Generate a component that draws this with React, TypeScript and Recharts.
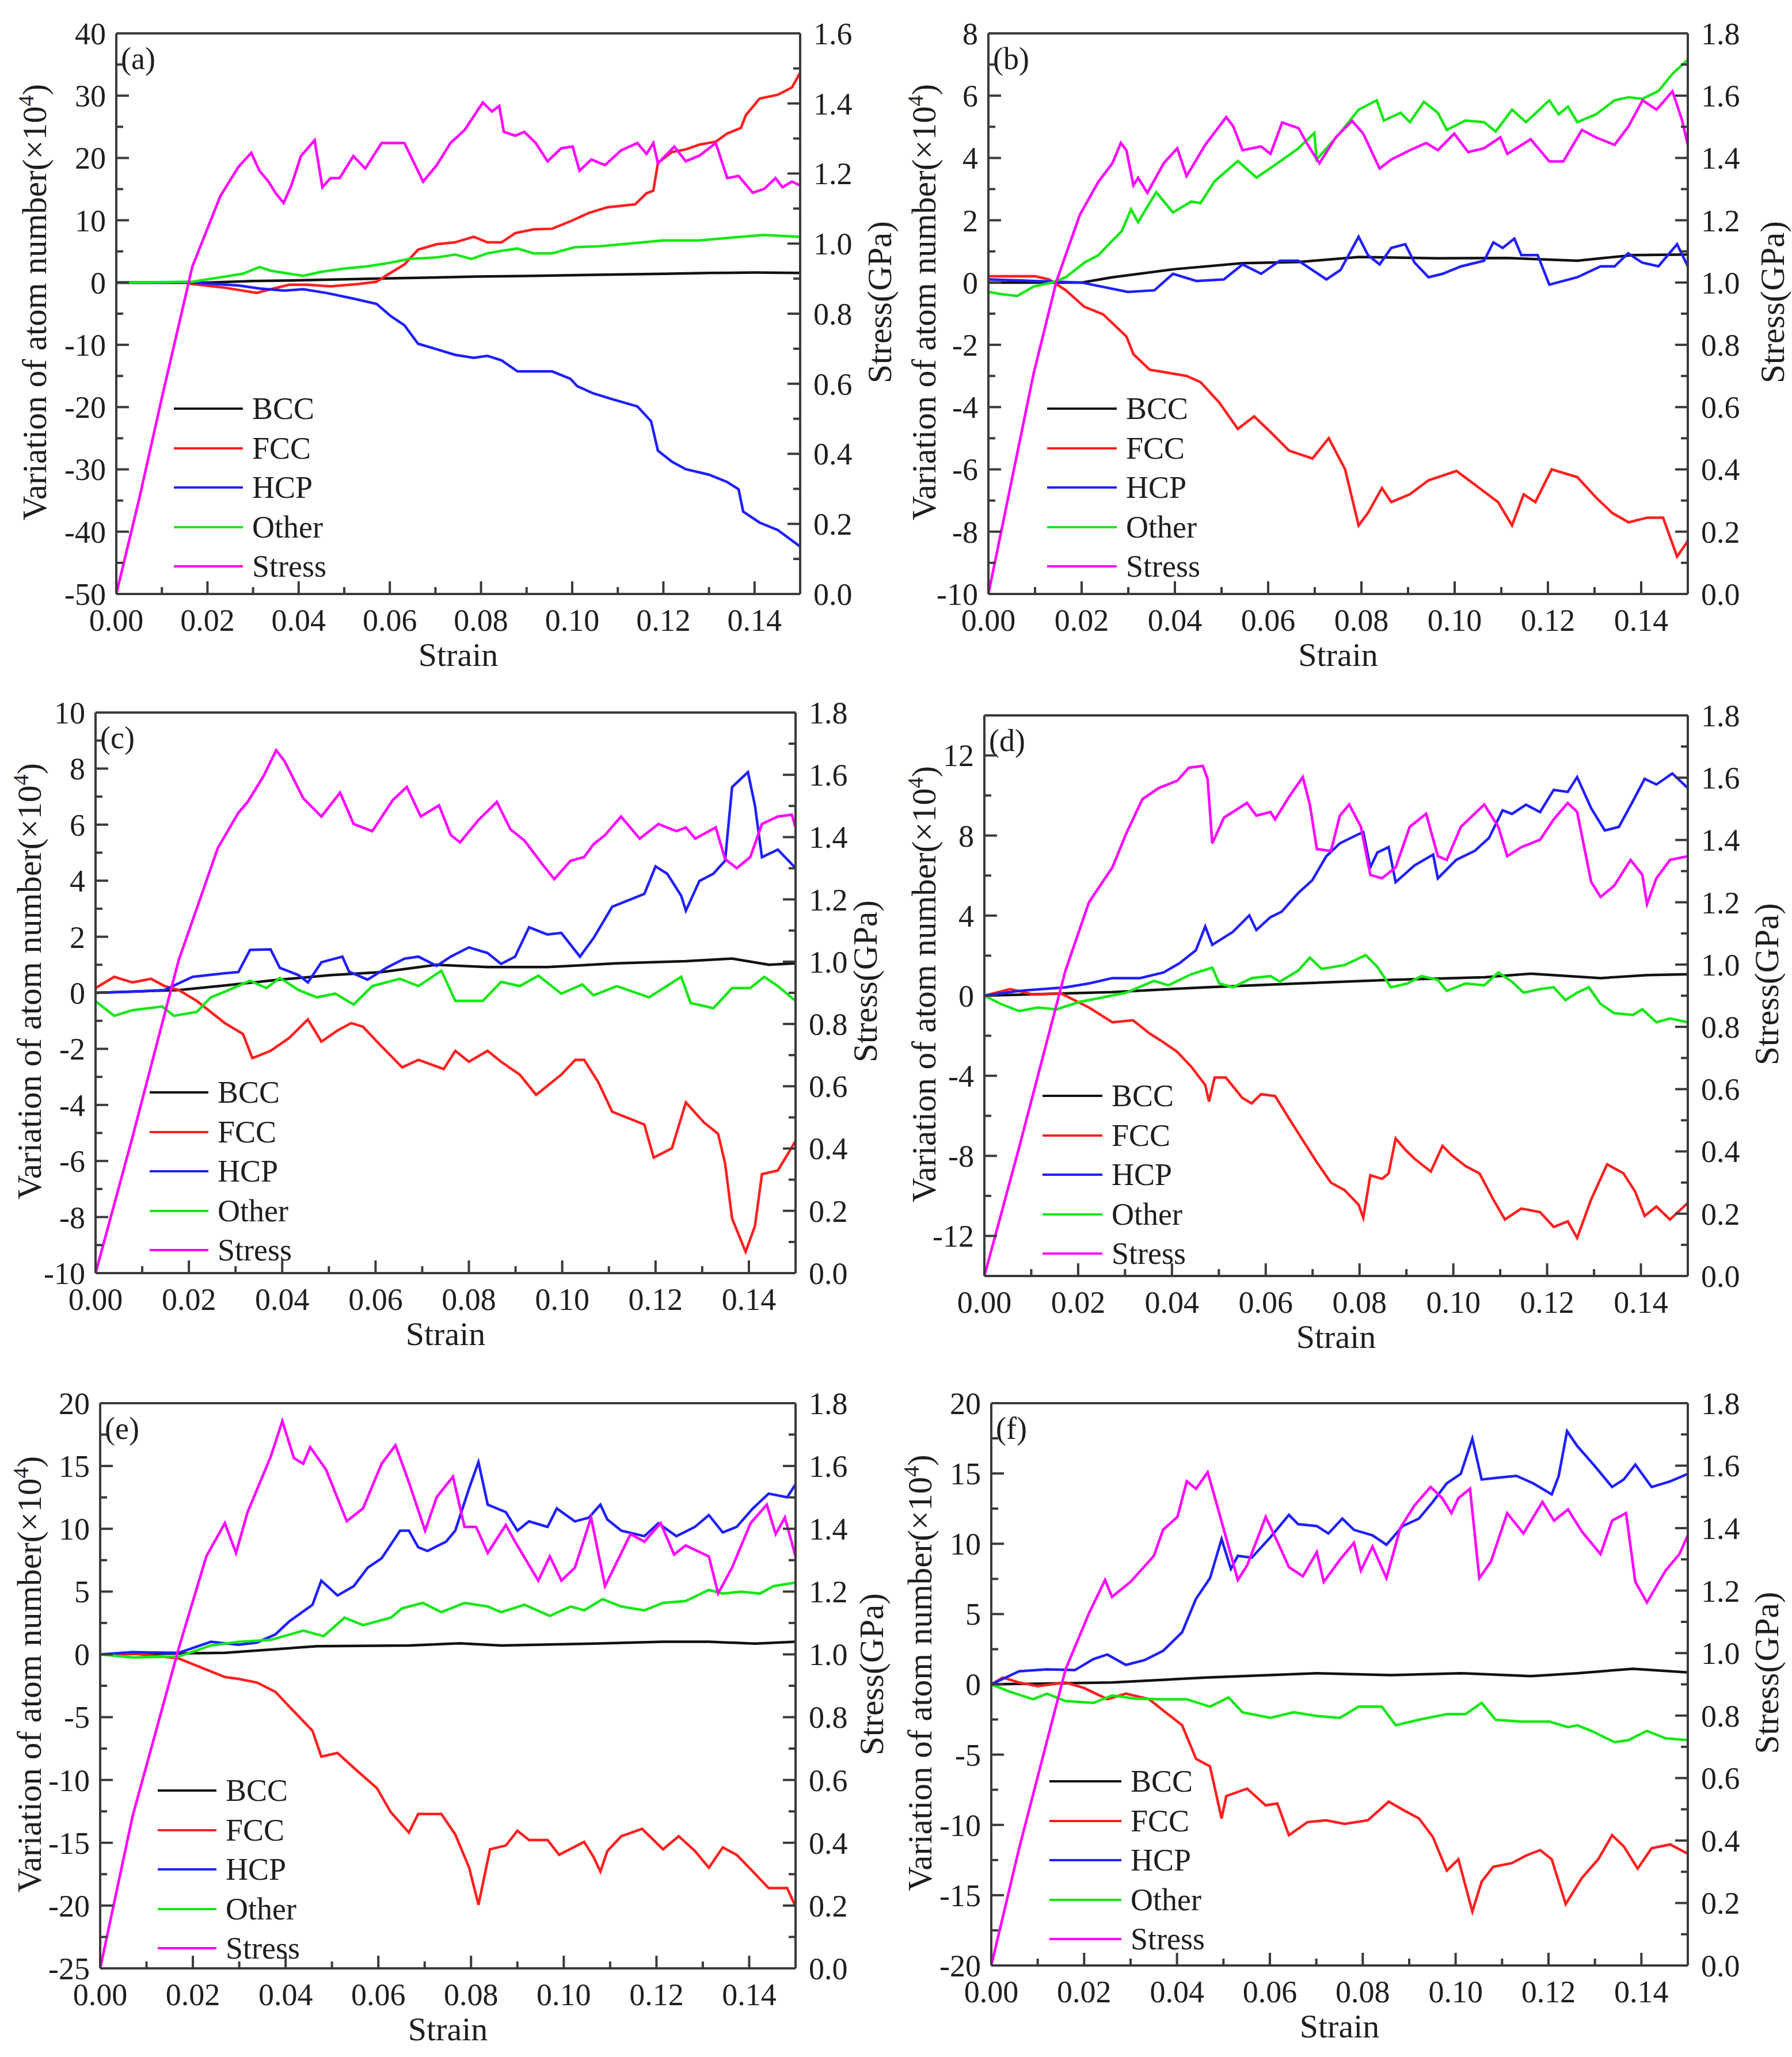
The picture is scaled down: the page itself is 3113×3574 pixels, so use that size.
import React from 'react';
import { LineChart, Line, XAxis, YAxis, Legend } from 'recharts';

type Pt = [number, number];

// tick values
const strainMajor = [0, 0.02, 0.04, 0.06, 0.08, 0.1, 0.12, 0.14];
const strainMinor = [0.01, 0.03, 0.05, 0.07, 0.09, 0.11, 0.13, 0.15];
const stressMajor16 = [0, 0.2, 0.4, 0.6, 0.8, 1.0, 1.2, 1.4, 1.6];
const stressMinor16 = [0.1, 0.3, 0.5, 0.7, 0.9, 1.1, 1.3, 1.5];
const stressMajor18 = [0, 0.2, 0.4, 0.6, 0.8, 1.0, 1.2, 1.4, 1.6, 1.8];
const stressMinor18 = [0.1, 0.3, 0.5, 0.7, 0.9, 1.1, 1.3, 1.5, 1.7];

const aLeftMajor = [-50, -40, -30, -20, -10, 0, 10, 20, 30, 40];
const aLeftMinor = [-45, -35, -25, -15, -5, 5, 15, 25, 35];
const bLeftMajor = [-10, -8, -6, -4, -2, 0, 2, 4, 6, 8];
const bLeftMinor = [-9, -7, -5, -3, -1, 1, 3, 5, 7];
const cLeftMajor = [-10, -8, -6, -4, -2, 0, 2, 4, 6, 8, 10];
const cLeftMinor = [-9, -7, -5, -3, -1, 1, 3, 5, 7, 9];
const dLeftMajor = [-12, -8, -4, 0, 4, 8, 12];
const dLeftMinor = [-14, -10, -6, -2, 2, 6, 10, 14];
const eLeftMajor = [-25, -20, -15, -10, -5, 0, 5, 10, 15, 20];
const eLeftMinor = [-22.5, -17.5, -12.5, -7.5, -2.5, 2.5, 7.5, 12.5, 17.5];
const fLeftMajor = [-20, -15, -10, -5, 0, 5, 10, 15, 20];
const fLeftMinor = [-17.5, -12.5, -7.5, -2.5, 2.5, 7.5, 12.5, 17.5];

const seriesNames = ['BCC', 'FCC', 'HCP', 'Other', 'Stress'];
const panelTags = ['(a)', '(b)', '(c)', '(d)', '(e)', '(f)'];

// ---- panel (a) ----
const aBCC: Pt[] = [[0, 0], [0.02, 0], [0.03, 0.24], [0.04, 0.35], [0.059, 0.65], [0.079, 0.95], [0.09, 1.05], [0.105, 1.24], [0.12, 1.4], [0.13, 1.54], [0.14, 1.6], [0.15, 1.54]];
const aFCC: Pt[] = [[0, 0], [0.015, 0], [0.0167, -0.24], [0.0238, -0.83], [0.0308, -1.66], [0.0339, -1.07], [0.0379, -0.36], [0.042, -0.36], [0.047, -0.6], [0.0531, -0.24], [0.0571, 0.12], [0.0592, 1.12], [0.0632, 2.9], [0.0662, 5.27], [0.0703, 6.16], [0.0743, 6.45], [0.0784, 7.34], [0.0814, 6.45], [0.0845, 6.45], [0.0875, 7.93], [0.0915, 8.53], [0.0956, 8.64], [0.0996, 9.83], [0.1037, 11.19], [0.1077, 12.08], [0.1138, 12.55], [0.1163, 14.33], [0.1178, 14.74], [0.1188, 19.2], [0.1219, 20.96], [0.1249, 21.37], [0.1279, 22.14], [0.1315, 22.62], [0.134, 23.92], [0.137, 24.81], [0.1381, 26.88], [0.1411, 29.54], [0.1451, 30.14], [0.1482, 31.32], [0.15, 33.69]];
const aHCP: Pt[] = [[0, 0], [0.0167, 0], [0.0268, -0.47], [0.0314, -0.95], [0.0369, -1.3], [0.041, -1.07], [0.046, -1.66], [0.0521, -2.6], [0.0571, -3.43], [0.0602, -5.39], [0.0632, -6.87], [0.0662, -9.83], [0.0703, -10.72], [0.0743, -11.6], [0.0784, -12.08], [0.0814, -11.78], [0.0845, -12.49], [0.088, -14.27], [0.0925, -14.27], [0.0956, -14.27], [0.0996, -15.45], [0.1011, -16.64], [0.1047, -17.82], [0.1087, -18.71], [0.1143, -19.89], [0.1173, -22.26], [0.1188, -27.0], [0.1219, -28.77], [0.1249, -29.96], [0.13, -30.85], [0.134, -32.03], [0.1365, -33.2], [0.1375, -36.77], [0.1411, -38.54], [0.1451, -39.73], [0.15, -42.39]];
const aOther: Pt[] = [[0, 0], [0.0167, 0.12], [0.0238, 0.95], [0.0278, 1.42], [0.0314, 2.49], [0.0339, 1.89], [0.0379, 1.42], [0.041, 1.07], [0.045, 1.72], [0.0501, 2.25], [0.0551, 2.6], [0.0602, 3.2], [0.0642, 3.79], [0.0703, 4.03], [0.0743, 4.5], [0.0779, 3.79], [0.0814, 4.68], [0.0845, 5.09], [0.088, 5.45], [0.0915, 4.68], [0.0956, 4.68], [0.1006, 5.68], [0.1057, 5.8], [0.1128, 6.28], [0.1199, 6.75], [0.1279, 6.75], [0.135, 7.22], [0.1421, 7.64], [0.15, 7.34]];
const aStress: Pt[] = [[0, 0], [0.005, 0.27], [0.01, 0.56], [0.0167, 0.935], [0.0228, 1.135], [0.0268, 1.219], [0.0296, 1.259], [0.0314, 1.208], [0.0334, 1.177], [0.0349, 1.145], [0.0367, 1.116], [0.0384, 1.166], [0.0405, 1.25], [0.0435, 1.295], [0.0452, 1.161], [0.047, 1.187], [0.049, 1.187], [0.052, 1.25], [0.0546, 1.214], [0.0582, 1.287], [0.0632, 1.287], [0.0673, 1.177], [0.0703, 1.224], [0.0733, 1.287], [0.0764, 1.324], [0.0804, 1.403], [0.0824, 1.377], [0.084, 1.393], [0.085, 1.319], [0.0875, 1.308], [0.0895, 1.319], [0.092, 1.287], [0.0946, 1.235], [0.0976, 1.272], [0.1001, 1.277], [0.1016, 1.208], [0.1042, 1.24], [0.1072, 1.224], [0.1107, 1.266], [0.1143, 1.287], [0.1163, 1.256], [0.1178, 1.287], [0.1188, 1.229], [0.1224, 1.277], [0.1249, 1.235], [0.1279, 1.251], [0.1315, 1.287], [0.134, 1.187], [0.1365, 1.193], [0.1396, 1.145], [0.1421, 1.156], [0.1446, 1.187], [0.1461, 1.161], [0.1482, 1.177], [0.15, 1.166]];

// ---- panel (b) ----
const bBCC: Pt[] = [[0, 0], [0.02, 0], [0.0266, 0.17], [0.04, 0.43], [0.0545, 0.62], [0.0665, 0.66], [0.0795, 0.82], [0.0964, 0.78], [0.1113, 0.79], [0.1263, 0.7], [0.1382, 0.88], [0.15, 0.9]];
const bFCC: Pt[] = [[0, 0.2], [0.005, 0.2], [0.01, 0.2], [0.013, 0.1], [0.0166, -0.25], [0.0206, -0.78], [0.0246, -1.02], [0.0296, -1.73], [0.0311, -2.3], [0.0346, -2.8], [0.0386, -2.9], [0.0425, -3.0], [0.0455, -3.2], [0.0495, -3.85], [0.0535, -4.7], [0.057, -4.3], [0.0605, -4.8], [0.0645, -5.4], [0.0695, -5.65], [0.073, -5.0], [0.0765, -6.0], [0.0794, -7.8], [0.0814, -7.4], [0.0844, -6.6], [0.0864, -7.05], [0.0904, -6.8], [0.0944, -6.35], [0.1004, -6.05], [0.1053, -6.6], [0.1093, -7.05], [0.1123, -7.8], [0.1148, -6.8], [0.1173, -7.05], [0.1208, -6.0], [0.1263, -6.25], [0.1303, -6.9], [0.1338, -7.4], [0.1373, -7.7], [0.1413, -7.55], [0.1447, -7.55], [0.1477, -8.8], [0.15, -8.3]];
const bHCP: Pt[] = [[0, 0.1], [0.01, 0.05], [0.02, 0], [0.0299, -0.3], [0.0356, -0.25], [0.0396, 0.28], [0.0446, 0.05], [0.0505, 0.1], [0.0545, 0.58], [0.0585, 0.28], [0.0625, 0.7], [0.0665, 0.7], [0.0725, 0.1], [0.0755, 0.4], [0.0794, 1.47], [0.0814, 0.88], [0.0839, 0.58], [0.0864, 1.11], [0.0894, 1.23], [0.0914, 0.64], [0.0944, 0.17], [0.0974, 0.28], [0.1014, 0.52], [0.1063, 0.7], [0.1083, 1.29], [0.1103, 1.11], [0.1128, 1.41], [0.1143, 0.88], [0.1178, 0.88], [0.1203, -0.07], [0.1233, 0.05], [0.1263, 0.17], [0.1313, 0.52], [0.1343, 0.52], [0.1372, 0.94], [0.1402, 0.64], [0.1437, 0.52], [0.1477, 1.23], [0.15, 0.52]];
const bOther: Pt[] = [[0, -0.3], [0.0027, -0.37], [0.0062, -0.43], [0.0097, -0.13], [0.0136, 0], [0.0166, 0.17], [0.0206, 0.64], [0.0236, 0.88], [0.0266, 1.35], [0.0286, 1.65], [0.0306, 2.35], [0.0321, 1.94], [0.036, 2.9], [0.0396, 2.25], [0.0435, 2.6], [0.0455, 2.55], [0.0485, 3.25], [0.0535, 3.9], [0.0575, 3.37], [0.0615, 3.78], [0.0664, 4.3], [0.0699, 4.8], [0.0704, 3.95], [0.0754, 4.8], [0.0794, 5.55], [0.0833, 5.85], [0.0848, 5.2], [0.0884, 5.45], [0.0904, 5.15], [0.0934, 5.8], [0.0964, 5.45], [0.0983, 4.9], [0.1023, 5.2], [0.1063, 5.15], [0.1088, 4.85], [0.1123, 5.55], [0.1153, 5.15], [0.1203, 5.85], [0.1223, 5.4], [0.1243, 5.65], [0.1263, 5.15], [0.1303, 5.4], [0.1343, 5.85], [0.1373, 5.95], [0.1403, 5.9], [0.1437, 6.15], [0.1467, 6.7], [0.15, 7.15]];
const bStress: Pt[] = [[0, 0], [0.0097, 0.708], [0.0146, 1.004], [0.0196, 1.217], [0.0236, 1.324], [0.0266, 1.383], [0.0284, 1.448], [0.0296, 1.425], [0.0311, 1.312], [0.0321, 1.336], [0.0341, 1.288], [0.0376, 1.383], [0.0405, 1.431], [0.0425, 1.342], [0.0465, 1.442], [0.051, 1.531], [0.0525, 1.502], [0.0545, 1.425], [0.0585, 1.437], [0.0605, 1.413], [0.063, 1.514], [0.0665, 1.496], [0.0685, 1.442], [0.071, 1.383], [0.0745, 1.466], [0.078, 1.519], [0.0804, 1.478], [0.0839, 1.366], [0.0864, 1.395], [0.0904, 1.425], [0.0939, 1.448], [0.0964, 1.425], [0.0999, 1.478], [0.1029, 1.419], [0.1063, 1.431], [0.1098, 1.466], [0.1113, 1.413], [0.1163, 1.46], [0.1203, 1.389], [0.1233, 1.389], [0.1273, 1.49], [0.1303, 1.466], [0.1343, 1.442], [0.1373, 1.502], [0.1403, 1.585], [0.1433, 1.555], [0.1467, 1.614], [0.1487, 1.525], [0.15, 1.442]];

// ---- panel (c) ----
const cBCC: Pt[] = [[0, 0], [0.0178, 0.1], [0.0277, 0.26], [0.0395, 0.47], [0.0504, 0.63], [0.0613, 0.74], [0.0731, 1.0], [0.084, 0.92], [0.0968, 0.92], [0.1117, 1.05], [0.1265, 1.13], [0.1364, 1.22], [0.1443, 1.0], [0.15, 1.05]];
const cFCC: Pt[] = [[0, 0.17], [0.004, 0.57], [0.0079, 0.37], [0.0119, 0.5], [0.0148, 0.24], [0.0178, 0.1], [0.0217, -0.29], [0.0277, -1.08], [0.0316, -1.47], [0.0336, -2.33], [0.0375, -2.07], [0.0415, -1.61], [0.0455, -0.95], [0.0484, -1.74], [0.0519, -1.34], [0.0548, -1.08], [0.0573, -1.21], [0.0603, -1.74], [0.0657, -2.66], [0.0692, -2.39], [0.0746, -2.72], [0.0771, -2.07], [0.08, -2.46], [0.084, -2.07], [0.0869, -2.46], [0.0909, -2.92], [0.0944, -3.64], [0.0968, -3.32], [0.0998, -2.92], [0.1028, -2.39], [0.1047, -2.39], [0.1077, -3.18], [0.1107, -4.24], [0.1146, -4.5], [0.1176, -4.7], [0.1196, -5.88], [0.1235, -5.55], [0.1265, -3.91], [0.1304, -4.63], [0.1334, -5.03], [0.1349, -6.08], [0.1364, -8.05], [0.1393, -9.24], [0.1413, -8.32], [0.1428, -6.47], [0.1462, -6.34], [0.15, -5.29]];
const cHCP: Pt[] = [[0, 0], [0.0079, 0.04], [0.0148, 0.1], [0.0208, 0.57], [0.0277, 0.7], [0.0306, 0.74], [0.0331, 1.53], [0.0375, 1.55], [0.0395, 0.89], [0.0435, 0.63], [0.0455, 0.37], [0.0484, 1.09], [0.0529, 1.29], [0.0543, 0.76], [0.0583, 0.47], [0.0623, 0.89], [0.0662, 1.22], [0.0692, 1.29], [0.0731, 0.96], [0.0761, 1.29], [0.08, 1.62], [0.084, 1.42], [0.0869, 1.03], [0.0899, 1.29], [0.0929, 2.34], [0.0968, 2.08], [0.0998, 2.14], [0.1038, 1.29], [0.1067, 1.95], [0.1107, 3.07], [0.1146, 3.33], [0.1176, 3.53], [0.12, 4.51], [0.1225, 4.25], [0.1255, 3.46], [0.1265, 2.93], [0.1294, 3.99], [0.1324, 4.25], [0.1349, 4.71], [0.1364, 7.34], [0.1398, 7.87], [0.1413, 6.68], [0.1428, 4.84], [0.1462, 5.11], [0.15, 4.45]];
const cOther: Pt[] = [[0, -0.3], [0.004, -0.82], [0.0079, -0.62], [0.0143, -0.49], [0.0168, -0.82], [0.0217, -0.68], [0.0247, -0.16], [0.0277, 0.04], [0.0331, 0.43], [0.0366, 0.17], [0.0395, 0.53], [0.0435, 0.1], [0.0474, -0.16], [0.0514, -0.03], [0.0553, -0.42], [0.0593, 0.24], [0.0652, 0.5], [0.0692, 0.24], [0.0741, 0.79], [0.0771, -0.29], [0.083, -0.29], [0.0869, 0.39], [0.0909, 0.24], [0.0949, 0.61], [0.0998, -0.03], [0.1043, 0.3], [0.1067, -0.09], [0.1117, 0.24], [0.1186, -0.16], [0.1255, 0.57], [0.1275, -0.36], [0.1324, -0.55], [0.1364, 0.17], [0.1403, 0.17], [0.1433, 0.57], [0.1462, 0.24], [0.15, -0.29]];
const cStress: Pt[] = [[0, 0], [0.0079, 0.436], [0.0178, 1.004], [0.0262, 1.365], [0.0306, 1.478], [0.0326, 1.513], [0.036, 1.596], [0.0387, 1.679], [0.0405, 1.644], [0.0445, 1.525], [0.0484, 1.466], [0.0524, 1.543], [0.0553, 1.442], [0.0593, 1.419], [0.0637, 1.519], [0.0667, 1.561], [0.0697, 1.466], [0.0736, 1.502], [0.0761, 1.407], [0.0781, 1.383], [0.082, 1.454], [0.086, 1.513], [0.0889, 1.425], [0.0919, 1.389], [0.0958, 1.312], [0.0983, 1.265], [0.1018, 1.324], [0.1047, 1.336], [0.1067, 1.377], [0.1092, 1.407], [0.1126, 1.466], [0.1166, 1.395], [0.1206, 1.442], [0.1245, 1.419], [0.1265, 1.431], [0.1285, 1.395], [0.1329, 1.431], [0.1349, 1.33], [0.1374, 1.3], [0.1403, 1.336], [0.1428, 1.442], [0.1462, 1.466], [0.1492, 1.472], [0.15, 1.431]];

// ---- panel (d) ----
const dBCC: Pt[] = [[0, 0], [0.0273, 0.18], [0.0471, 0.42], [0.0669, 0.61], [0.0867, 0.79], [0.1066, 0.92], [0.1165, 1.1], [0.1314, 0.88], [0.1413, 1.03], [0.15, 1.07]];
const dFCC: Pt[] = [[0, 0], [0.0055, 0.33], [0.0104, 0.06], [0.0164, 0.11], [0.0223, -0.59], [0.0273, -1.33], [0.0317, -1.23], [0.0352, -1.88], [0.0377, -2.25], [0.0411, -2.8], [0.0441, -3.54], [0.0471, -4.46], [0.0479, -5.29], [0.0491, -4.09], [0.0515, -4.09], [0.055, -5.1], [0.057, -5.38], [0.059, -4.92], [0.062, -5.01], [0.0649, -6.11], [0.0679, -7.22], [0.0709, -8.32], [0.0739, -9.34], [0.0768, -9.71], [0.0798, -10.44], [0.0808, -11.09], [0.0823, -8.97], [0.0848, -9.15], [0.0862, -8.88], [0.0877, -7.13], [0.0897, -7.68], [0.0917, -8.14], [0.0952, -8.78], [0.0977, -7.5], [0.0996, -7.96], [0.1026, -8.51], [0.1056, -8.88], [0.1085, -10.17], [0.111, -11.18], [0.1145, -10.63], [0.1185, -10.81], [0.1214, -11.55], [0.1244, -11.27], [0.1264, -12.1], [0.1294, -10.17], [0.1328, -8.42], [0.1363, -8.88], [0.1388, -9.8], [0.1408, -11.0], [0.1433, -10.53], [0.1462, -11.18], [0.15, -10.35]];
const dHCP: Pt[] = [[0, 0], [0.0074, 0.24], [0.0173, 0.42], [0.0223, 0.61], [0.0273, 0.88], [0.0332, 0.88], [0.0382, 1.16], [0.0416, 1.62], [0.0451, 2.27], [0.0471, 3.46], [0.0486, 2.54], [0.053, 3.19], [0.0565, 4.01], [0.058, 3.28], [0.061, 3.92], [0.0634, 4.2], [0.0669, 5.12], [0.0699, 5.76], [0.0729, 6.96], [0.0758, 7.61], [0.0798, 8.07], [0.0808, 8.16], [0.0823, 6.41], [0.0838, 7.15], [0.0862, 7.42], [0.0877, 5.67], [0.0917, 6.5], [0.0957, 7.05], [0.0967, 5.86], [0.1006, 6.78], [0.1046, 7.24], [0.1076, 7.88], [0.1105, 9.26], [0.1125, 9.08], [0.1155, 9.54], [0.1185, 9.17], [0.1214, 10.28], [0.1244, 10.18], [0.1264, 10.92], [0.1294, 9.36], [0.1323, 8.25], [0.1353, 8.43], [0.1383, 9.72], [0.1408, 10.83], [0.1433, 10.55], [0.1467, 11.1], [0.15, 10.37]];
const dOther: Pt[] = [[0, 0], [0.0035, -0.41], [0.0074, -0.77], [0.0114, -0.59], [0.0154, -0.68], [0.0203, -0.31], [0.0243, -0.13], [0.0302, 0.15], [0.0362, 0.74], [0.0392, 0.52], [0.0441, 1.07], [0.0486, 1.4], [0.0501, 0.61], [0.053, 0.42], [0.057, 0.88], [0.061, 0.98], [0.063, 0.7], [0.0669, 1.25], [0.0694, 1.9], [0.0719, 1.34], [0.0768, 1.53], [0.0813, 2.03], [0.0838, 1.44], [0.0867, 0.42], [0.0902, 0.61], [0.0932, 0.98], [0.0967, 0.79], [0.0986, 0.24], [0.1026, 0.61], [0.1066, 0.52], [0.1096, 1.16], [0.1125, 0.7], [0.115, 0.15], [0.1185, 0.33], [0.1214, 0.42], [0.1239, -0.22], [0.1264, 0.15], [0.1289, 0.42], [0.1314, -0.41], [0.1343, -0.87], [0.1383, -0.96], [0.1403, -0.68], [0.1433, -1.33], [0.1462, -1.14], [0.15, -1.33]];
const dStress: Pt[] = [[0, 0], [0.0074, 0.412], [0.0173, 0.981], [0.0223, 1.2], [0.0273, 1.312], [0.0302, 1.419], [0.0337, 1.531], [0.0372, 1.567], [0.0411, 1.59], [0.0436, 1.632], [0.0466, 1.638], [0.0476, 1.596], [0.0486, 1.389], [0.0511, 1.472], [0.053, 1.49], [0.056, 1.519], [0.058, 1.478], [0.061, 1.49], [0.062, 1.466], [0.0649, 1.537], [0.0679, 1.602], [0.0694, 1.514], [0.0709, 1.371], [0.0739, 1.365], [0.0758, 1.478], [0.0778, 1.514], [0.0803, 1.442], [0.0823, 1.288], [0.0848, 1.277], [0.0877, 1.312], [0.0907, 1.442], [0.0942, 1.484], [0.0967, 1.348], [0.0986, 1.336], [0.1016, 1.442], [0.1066, 1.514], [0.1096, 1.442], [0.1115, 1.348], [0.1145, 1.377], [0.1185, 1.401], [0.1214, 1.466], [0.1244, 1.519], [0.1264, 1.49], [0.1294, 1.265], [0.1314, 1.217], [0.1343, 1.253], [0.1378, 1.336], [0.1403, 1.288], [0.1413, 1.194], [0.1433, 1.277], [0.1462, 1.336], [0.15, 1.348]];

// ---- panel (e) ----
const eBCC: Pt[] = [[0, 0], [0.0269, 0.12], [0.0468, 0.65], [0.0667, 0.71], [0.0776, 0.88], [0.0865, 0.71], [0.1064, 0.86], [0.1214, 1.0], [0.1313, 1.0], [0.1413, 0.86], [0.15, 1.0]];
const eFCC: Pt[] = [[0, 0], [0.007, 0.06], [0.0169, -0.32], [0.0219, -1.06], [0.0269, -1.8], [0.0298, -1.95], [0.0338, -2.24], [0.0378, -2.98], [0.0408, -4.16], [0.0458, -6.08], [0.0477, -8.14], [0.0512, -7.85], [0.0547, -9.03], [0.0597, -10.65], [0.0627, -12.57], [0.0666, -14.19], [0.0686, -12.71], [0.0736, -12.71], [0.0766, -14.34], [0.0796, -16.99], [0.0816, -19.94], [0.0841, -15.52], [0.0875, -15.22], [0.09, -14.04], [0.0925, -14.78], [0.0965, -14.78], [0.099, -15.96], [0.1044, -14.93], [0.1064, -16.11], [0.1079, -17.29], [0.1094, -15.66], [0.1124, -14.48], [0.1169, -13.89], [0.1214, -15.52], [0.1248, -14.48], [0.1283, -15.66], [0.1313, -16.99], [0.1343, -15.37], [0.1373, -15.96], [0.1408, -17.29], [0.1442, -18.61], [0.1482, -18.61], [0.15, -20.09]];
const eHCP: Pt[] = [[0, 0], [0.007, 0.18], [0.0169, 0.12], [0.0239, 1.0], [0.0298, 0.77], [0.0338, 0.94], [0.0378, 1.59], [0.0408, 2.63], [0.0458, 3.95], [0.0477, 5.87], [0.0512, 4.69], [0.0547, 5.43], [0.0577, 6.9], [0.0607, 7.64], [0.0647, 9.85], [0.0666, 9.85], [0.0686, 8.53], [0.0706, 8.23], [0.0746, 8.97], [0.0766, 9.85], [0.0796, 13.24], [0.0816, 15.31], [0.0836, 11.92], [0.0875, 11.33], [0.09, 9.85], [0.0925, 10.59], [0.0965, 10.15], [0.0985, 11.62], [0.1024, 10.59], [0.1054, 10.88], [0.1079, 11.92], [0.1094, 10.74], [0.1124, 9.85], [0.1174, 9.41], [0.1204, 10.44], [0.1243, 9.41], [0.1283, 10.15], [0.1313, 11.09], [0.1343, 9.71], [0.1373, 10.15], [0.1408, 11.62], [0.1442, 12.8], [0.1482, 12.51], [0.15, 13.54]];
const eOther: Pt[] = [[0, 0], [0.007, -0.24], [0.0169, -0.18], [0.0239, 0.71], [0.0298, 1.0], [0.0368, 1.15], [0.0438, 1.89], [0.0482, 1.45], [0.0527, 2.92], [0.0567, 2.33], [0.0627, 2.92], [0.0651, 3.66], [0.0696, 4.1], [0.0736, 3.36], [0.0786, 4.1], [0.0836, 3.81], [0.0865, 3.36], [0.0915, 3.95], [0.097, 3.07], [0.1015, 3.81], [0.1044, 3.51], [0.1084, 4.4], [0.1124, 3.81], [0.1174, 3.51], [0.1214, 4.1], [0.1263, 4.25], [0.1313, 5.13], [0.1343, 4.84], [0.1383, 4.99], [0.1423, 4.84], [0.1452, 5.43], [0.15, 5.72]];
const eStress: Pt[] = [[0, 0], [0.007, 0.485], [0.0169, 1.017], [0.0229, 1.312], [0.0269, 1.418], [0.0293, 1.323], [0.0318, 1.453], [0.0368, 1.63], [0.0393, 1.743], [0.0418, 1.625], [0.0438, 1.607], [0.0453, 1.66], [0.0487, 1.589], [0.0532, 1.424], [0.0567, 1.465], [0.0607, 1.607], [0.0637, 1.666], [0.0666, 1.548], [0.0701, 1.394], [0.0726, 1.501], [0.0761, 1.566], [0.0786, 1.406], [0.0811, 1.406], [0.0836, 1.323], [0.0875, 1.412], [0.0895, 1.359], [0.0945, 1.235], [0.097, 1.312], [0.0995, 1.235], [0.1024, 1.276], [0.1059, 1.436], [0.1089, 1.217], [0.1144, 1.383], [0.1174, 1.359], [0.1209, 1.418], [0.1238, 1.318], [0.1263, 1.347], [0.1313, 1.312], [0.1333, 1.194], [0.1363, 1.276], [0.1403, 1.418], [0.1438, 1.477], [0.1457, 1.383], [0.1477, 1.436], [0.15, 1.312]];

// ---- panel (f) ----
const fBCC: Pt[] = [[0, 0], [0.026, 0.13], [0.0461, 0.48], [0.0701, 0.79], [0.0861, 0.66], [0.1011, 0.79], [0.1162, 0.58], [0.1262, 0.79], [0.1382, 1.11], [0.15, 0.85]];
const fFCC: Pt[] = [[0, 0], [0.0025, 0.48], [0.006, 0.13], [0.01, -0.13], [0.016, 0.13], [0.02, -0.26], [0.025, -1.06], [0.029, -0.66], [0.034, -1.06], [0.037, -1.85], [0.0411, -2.91], [0.0441, -5.3], [0.0471, -5.83], [0.0496, -9.54], [0.0506, -7.95], [0.0551, -7.42], [0.0591, -8.61], [0.0616, -8.48], [0.0641, -10.73], [0.0681, -9.8], [0.0721, -9.67], [0.0761, -9.93], [0.0811, -9.67], [0.0856, -8.34], [0.0891, -9.01], [0.0921, -9.54], [0.0951, -10.86], [0.0981, -13.25], [0.1006, -12.45], [0.1036, -16.16], [0.1056, -14.04], [0.1081, -12.98], [0.1121, -12.72], [0.1151, -12.19], [0.1182, -11.79], [0.1207, -12.45], [0.1237, -15.63], [0.1272, -13.77], [0.1307, -12.45], [0.1337, -10.73], [0.1362, -11.52], [0.1392, -13.11], [0.1422, -11.66], [0.1462, -11.39], [0.15, -12.05]];
const fHCP: Pt[] = [[0, 0], [0.006, 0.93], [0.012, 1.06], [0.018, 1.01], [0.022, 1.8], [0.025, 2.12], [0.029, 1.38], [0.033, 1.72], [0.037, 2.38], [0.0411, 3.71], [0.0441, 6.09], [0.0471, 7.55], [0.0496, 10.33], [0.0516, 8.21], [0.0531, 9.14], [0.0561, 9.01], [0.0601, 10.46], [0.0641, 12.05], [0.0661, 11.39], [0.0701, 11.26], [0.0726, 10.73], [0.0756, 11.79], [0.0781, 10.99], [0.0821, 10.6], [0.0851, 9.93], [0.0886, 11.26], [0.0921, 11.79], [0.0951, 12.98], [0.0981, 14.3], [0.1011, 14.97], [0.1036, 17.48], [0.1056, 14.57], [0.1091, 14.7], [0.1131, 14.83], [0.1167, 14.3], [0.1207, 13.51], [0.1222, 14.83], [0.124, 18.01], [0.1262, 16.95], [0.1297, 15.63], [0.1337, 14.04], [0.1362, 14.57], [0.1387, 15.63], [0.1422, 14.04], [0.1462, 14.44], [0.15, 14.97]];
const fOther: Pt[] = [[0, 0], [0.004, -0.53], [0.009, -1.06], [0.012, -0.66], [0.016, -1.19], [0.022, -1.32], [0.026, -0.79], [0.031, -1.01], [0.037, -1.06], [0.0421, -1.06], [0.0471, -1.59], [0.0511, -0.93], [0.0541, -1.99], [0.0601, -2.38], [0.0651, -1.99], [0.0701, -2.25], [0.0751, -2.38], [0.0791, -1.59], [0.0841, -1.59], [0.0871, -2.91], [0.0921, -2.52], [0.0981, -2.12], [0.1021, -2.12], [0.1056, -1.32], [0.1086, -2.52], [0.1141, -2.65], [0.1202, -2.65], [0.1242, -3.05], [0.1262, -2.91], [0.1292, -3.31], [0.1342, -4.11], [0.1372, -3.97], [0.1412, -3.31], [0.1452, -3.84], [0.15, -3.97]];
const fStress: Pt[] = [[0, 0], [0.006, 0.375], [0.016, 0.948], [0.021, 1.126], [0.0245, 1.234], [0.026, 1.18], [0.03, 1.228], [0.035, 1.311], [0.037, 1.395], [0.0401, 1.436], [0.0421, 1.55], [0.0441, 1.526], [0.0466, 1.579], [0.0491, 1.448], [0.0511, 1.341], [0.0531, 1.234], [0.0551, 1.281], [0.0591, 1.436], [0.0621, 1.341], [0.0641, 1.275], [0.0671, 1.246], [0.0701, 1.323], [0.0716, 1.228], [0.0751, 1.299], [0.0781, 1.353], [0.0796, 1.264], [0.0821, 1.341], [0.0851, 1.24], [0.0881, 1.401], [0.0911, 1.472], [0.0946, 1.532], [0.0971, 1.496], [0.0991, 1.448], [0.1006, 1.496], [0.1031, 1.526], [0.1051, 1.24], [0.1076, 1.293], [0.1111, 1.448], [0.1146, 1.383], [0.1187, 1.484], [0.1212, 1.424], [0.1242, 1.46], [0.1272, 1.389], [0.1312, 1.317], [0.1337, 1.424], [0.1367, 1.448], [0.1387, 1.228], [0.1412, 1.162], [0.1452, 1.264], [0.1482, 1.317], [0.15, 1.377]];

const FONT = '"Liberation Serif", "Times New Roman", Times, serif';
const INK = '#1e1e1e';
const FRAME = '#3a3a3a';
const COLORS = ['#111111', '#ff1f1f', '#1f1fff', '#16e816', '#ff00ff'];

interface PanelCfg {
  tag: string;
  frame: [number, number, number, number]; // chart x, y, width, height on the page
  box: [number, number, number, number]; // plot left, top, right, bottom on the page
  left: [number, number];
  leftMajor: number[];
  leftMinor: number[];
  right: [number, number];
  rightMajor: number[];
  rightMinor: number[];
  series: Pt[][];
  legend: { dx: number; dy: number; len: number };
  yLabelDx: number;
  y2LabelDx: number;
}

const toRows = (pts: Pt[]) => pts.map(([x, y]) => ({ x, y }));

// axes get a 1px box: recharts skips drawing an axis whose box is 0 wide
const AX = 1;

function Panel({ cfg }: { cfg: PanelCfg }) {
  const [x0, y0, W, H] = cfg.frame;
  const L = cfg.box[0] - x0;
  const T = cfg.box[1] - y0;
  const R = cfg.box[2] - x0;
  const B = cfg.box[3] - y0;
  const cy = (T + B) / 2 - 20;

  const leftTick = (p: any) => {
    const v = p.payload.value;
    const major = cfg.leftMajor.includes(v);
    const y = p.payload.coordinate ?? p.y;
    return (
      <g>
        <line x1={L} x2={L + (major ? 22 : 12)} y1={y} y2={y} stroke={FRAME} strokeWidth={4} />
        {major && (
          <text x={L - 18} y={y} dy="0.35em" textAnchor="end" fontSize={54} fontFamily={FONT} fill={INK}>
            {String(v)}
          </text>
        )}
      </g>
    );
  };
  const rightTick = (p: any) => {
    const v = p.payload.value;
    const major = cfg.rightMajor.includes(v);
    const y = p.payload.coordinate ?? p.y;
    return (
      <g>
        <line x1={R} x2={R - (major ? 22 : 12)} y1={y} y2={y} stroke={FRAME} strokeWidth={4} />
        {major && (
          <text x={R + 23} y={y} dy="0.35em" textAnchor="start" fontSize={54} fontFamily={FONT} fill={INK}>
            {v.toFixed(1)}
          </text>
        )}
      </g>
    );
  };
  const bottomTick = (p: any) => {
    const v = p.payload.value;
    const major = strainMajor.includes(v);
    const x = p.payload.coordinate ?? p.x;
    return (
      <g>
        <line x1={x} x2={x} y1={B} y2={B - (major ? 22 : 12)} stroke={FRAME} strokeWidth={4} />
        {major && (
          <text x={x} y={B + 45} dy="0.35em" textAnchor="middle" fontSize={54} fontFamily={FONT} fill={INK}>
            {v.toFixed(2)}
          </text>
        )}
      </g>
    );
  };

  const axisLine = { stroke: FRAME, strokeWidth: 4 };

  return (
    <div style={{ position: 'absolute', left: x0, top: y0 }}>
      <LineChart width={W} height={H} margin={{ top: T - AX, left: L - AX, right: W - R - AX, bottom: H - B - AX }}>
        <XAxis
          xAxisId="b"
          dataKey="x"
          type="number"
          domain={[0, 0.15]}
          ticks={[...strainMajor, ...strainMinor]}
          interval={0}
          height={AX}
          allowDataOverflow
          tickLine={false}
          axisLine={axisLine}
          tick={bottomTick}
          label={{
            value: 'Strain',
            content: () => (
              <text x={(L + R) / 2} y={B + 105} dy="0.35em" textAnchor="middle" fontSize={58} fontFamily={FONT} fill={INK}>
                Strain
              </text>
            ),
          }}
        />
        <XAxis
          xAxisId="t"
          orientation="top"
          type="number"
          domain={[0, 0.15]}
          height={AX}
          tick={false}
          tickLine={false}
          axisLine={axisLine}
          label={{
            value: cfg.tag,
            content: () => (
              <text x={L + 8} y={T + 62} fontSize={54} fontFamily={FONT} fill={INK}>
                {cfg.tag}
              </text>
            ),
          }}
        />
        <YAxis
          yAxisId="l"
          orientation="left"
          type="number"
          width={AX}
          domain={cfg.left}
          ticks={[...cfg.leftMajor, ...cfg.leftMinor]}
          interval={0}
          allowDataOverflow
          tickLine={false}
          axisLine={axisLine}
          tick={leftTick}
          label={{
            value: 'Variation of atom number',
            content: () => (
              <text
                transform={`translate(${L + cfg.yLabelDx}, ${cy}) rotate(-90)`}
                textAnchor="middle"
                dy="0.35em"
                fontSize={59}
                fontFamily={FONT}
                fill={INK}
              >
                Variation of atom number(×10
                <tspan dy={-22} fontSize={38}>4</tspan>
                <tspan dy={22}>)</tspan>
              </text>
            ),
          }}
        />
        <YAxis
          yAxisId="r"
          orientation="right"
          type="number"
          width={AX}
          domain={cfg.right}
          ticks={[...cfg.rightMajor, ...cfg.rightMinor]}
          interval={0}
          allowDataOverflow
          tickLine={false}
          axisLine={axisLine}
          tick={rightTick}
          label={{
            value: 'Stress(GPa)',
            content: () => (
              <text
                transform={`translate(${R + cfg.y2LabelDx}, ${cy}) rotate(-90)`}
                textAnchor="middle"
                dy="0.35em"
                fontSize={59}
                fontFamily={FONT}
                fill={INK}
              >
                Stress(GPa)
              </text>
            ),
          }}
        />
        <Legend
          layout="vertical"
          align="center"
          verticalAlign="middle"
          wrapperStyle={{ left: L + cfg.legend.dx, top: T + cfg.legend.dy - 34, width: 'auto', height: 'auto' }}
          content={(props: any) => (
            <div style={{ fontFamily: FONT, fontSize: 54, color: INK }}>
              {(props.payload || []).map((e: any) => (
                <div key={e.value} style={{ display: 'flex', alignItems: 'center', height: 68.5 }}>
                  <div style={{ width: cfg.legend.len, borderTop: `4px solid ${e.color}` }} />
                  <span style={{ marginLeft: 16, lineHeight: 1 }}>{e.value}</span>
                </div>
              ))}
            </div>
          )}
        />
        {cfg.series.map((pts, i) => (
          <Line
            key={seriesNames[i]}
            name={seriesNames[i]}
            data={toRows(pts)}
            dataKey="y"
            xAxisId="b"
            yAxisId={i === 4 ? 'r' : 'l'}
            type="linear"
            stroke={COLORS[i]}
            strokeWidth={4.5}
            dot={false}
            activeDot={false}
            isAnimationActive={false}
          />
        ))}
      </LineChart>
    </div>
  );
}

// left-column charts are made wider than half the page so their right-hand
// axis title is not clipped; they sit under the right-column charts
const panels: PanelCfg[] = [
  {
    tag: panelTags[0], frame: [0, 0, 1620, 1191], box: [202, 58, 1390, 1032],
    left: [-50, 40], leftMajor: aLeftMajor, leftMinor: aLeftMinor,
    right: [0, 1.6], rightMajor: stressMajor16, rightMinor: stressMinor16,
    series: [aBCC, aFCC, aHCP, aOther, aStress],
    legend: { dx: 100, dy: 652, len: 120 }, yLabelDx: -143, y2LabelDx: 137,
  },
  {
    tag: panelTags[1], frame: [1556, 0, 1557, 1191], box: [1717, 58, 2932, 1032],
    left: [-10, 8], leftMajor: bLeftMajor, leftMinor: bLeftMinor,
    right: [0, 1.8], rightMajor: stressMajor18, rightMinor: stressMinor18,
    series: [bBCC, bFCC, bHCP, bOther, bStress],
    legend: { dx: 102, dy: 652, len: 121 }, yLabelDx: -113, y2LabelDx: 146,
  },
  {
    tag: panelTags[2], frame: [0, 1191, 1620, 1191], box: [166, 1238, 1382, 2212],
    left: [-10, 10], leftMajor: cLeftMajor, leftMinor: cLeftMinor,
    right: [0, 1.8], rightMajor: stressMajor18, rightMinor: stressMinor18,
    series: [cBCC, cFCC, cHCP, cOther, cStress],
    legend: { dx: 94, dy: 660, len: 102 }, yLabelDx: -116, y2LabelDx: 120,
  },
  {
    tag: panelTags[3], frame: [1556, 1191, 1557, 1191], box: [1710, 1243, 2932, 2217],
    left: [-14, 14], leftMajor: dLeftMajor, leftMinor: dLeftMinor,
    right: [0, 1.8], rightMajor: stressMajor18, rightMinor: stressMinor18,
    series: [dBCC, dFCC, dHCP, dOther, dStress],
    legend: { dx: 101, dy: 661, len: 104 }, yLabelDx: -106, y2LabelDx: 136,
  },
  {
    tag: panelTags[4], frame: [0, 2382, 1620, 1192], box: [174, 2438, 1382, 3420],
    left: [-25, 20], leftMajor: eLeftMajor, leftMinor: eLeftMinor,
    right: [0, 1.8], rightMajor: stressMajor18, rightMinor: stressMinor18,
    series: [eBCC, eFCC, eHCP, eOther, eStress],
    legend: { dx: 100, dy: 673, len: 102 }, yLabelDx: -124, y2LabelDx: 131,
  },
  {
    tag: panelTags[5], frame: [1556, 2382, 1557, 1192], box: [1722, 2438, 2932, 3415],
    left: [-20, 20], leftMajor: fLeftMajor, leftMinor: fLeftMinor,
    right: [0, 1.8], rightMajor: stressMajor18, rightMinor: stressMinor18,
    series: [fBCC, fFCC, fHCP, fOther, fStress],
    legend: { dx: 101, dy: 657, len: 125 }, yLabelDx: -125, y2LabelDx: 136,
  },
];

export default function App() {
  return (
    <div style={{ position: 'relative', width: 3113, height: 3574, background: '#ffffff' }}>
      <style>{'body{margin:0;background:#fff;}'}</style>
      {panels.map((p) => (
        <Panel key={p.tag} cfg={p} />
      ))}
    </div>
  );
}
